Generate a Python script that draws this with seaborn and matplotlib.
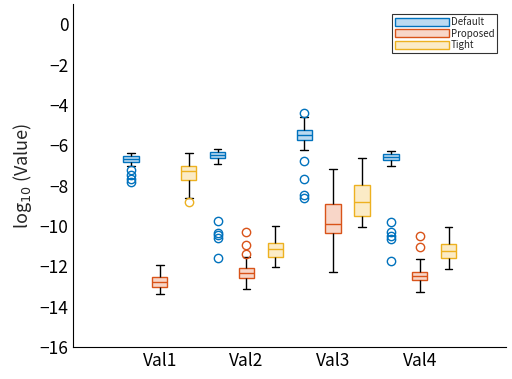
import pandas as pd
import matplotlib
matplotlib.use('Agg')
import matplotlib.pyplot as plt
import seaborn as sns
from matplotlib.patches import Patch

categories = ['Val1', 'Val2', 'Val3', 'Val4']
methods = ['Default', 'Proposed', 'Tight']

# box summaries (log10 of value):
# [whisker low, q1, median, q3, whisker high] for Val1..Val4
default_stats = [
    [-7.02, -6.80, -6.67, -6.54, -6.36],
    [-6.93, -6.64, -6.46, -6.32, -6.16],
    [-6.21, -5.75, -5.46, -5.23, -4.59],
    [-7.03, -6.74, -6.59, -6.44, -6.27],
]
proposed_stats = [
    [-13.37, -13.00, -12.75, -12.50, -11.95],
    [-13.14, -12.55, -12.32, -12.10, -11.52],
    [-12.25, -10.32, -9.92, -8.90, -7.17],
    [-13.29, -12.68, -12.46, -12.25, -11.65],
]
tight_stats = [
    [-8.60, -7.70, -7.26, -7.02, -6.36],
    [-12.04, -11.51, -11.14, -10.86, -9.97],
    [-10.05, -9.48, -8.82, -7.96, -6.62],
    [-12.15, -11.57, -11.23, -10.91, -10.04],
]

default_outliers = [
    [-7.22, -7.46, -7.66, -7.79],
    [-9.74, -10.32, -10.45, -10.57, -11.60],
    [-4.40, -6.79, -7.68, -8.47, -8.59],
    [-9.82, -10.30, -10.50, -10.65, -11.72],
]
proposed_outliers = [
    [],
    [-10.30, -10.95, -11.37],
    [],
    [-10.48, -11.06],
]
tight_outliers = [
    [-8.82],
    [],
    [],
    [],
]

edge_colors = {'Default': '#0072BD', 'Proposed': '#D95319', 'Tight': '#EDB120'}
face_colors = {'Default': '#BCDAF0', 'Proposed': '#F8D6C8', 'Tight': '#FBEBC6'}

# seaborn needs raw samples, so rebuild a sample per box that reproduces the summary
rows = []
all_stats = {'Default': (default_stats, default_outliers),
             'Proposed': (proposed_stats, proposed_outliers),
             'Tight': (tight_stats, tight_outliers)}
for m in methods:
    stats, outs = all_stats[m]
    for cat, s, o in zip(categories, stats, outs):
        lo, q1, med, q3, hi = s
        sample = [lo] + [q1] * 9 + [med] * 9 + [q3] * 9 + [hi] + list(o)
        rows += [{'Val': cat, 'Method': m, 'value': v} for v in sample]
df = pd.DataFrame(rows)

sns.set_style('white')
plt.rcParams['font.family'] = ['Noto Sans CJK JP', 'DejaVu Sans']
plt.rcParams['axes.unicode_minus'] = True

fig = plt.figure(figsize=(5.12, 3.79), dpi=100)
ax = fig.add_axes([0.143, 0.084, 0.846, 0.905])

for m in methods:
    sns.boxplot(
        data=df[df['Method'] == m], x='Val', y='value', hue='Method',
        order=categories, hue_order=methods, dodge=True,
        palette=face_colors, saturation=1, width=1.0, gap=0.47,
        linecolor=edge_colors[m], linewidth=1.0,
        whiskerprops=dict(color='black'),
        capprops=dict(color='black'),
        medianprops=dict(color=edge_colors[m]),
        flierprops=dict(marker='o', markerfacecolor='none',
                        markeredgecolor=edge_colors[m], markersize=6,
                        markeredgewidth=1.0),
        legend=False, ax=ax,
    )

ax.set_xlim(-1, 4)
ax.set_ylim(-16, 1)
ax.set_yticks(range(-16, 1, 2))
ax.set_xlabel('')
ax.set_ylabel('log$_{10}$ (Value)', fontsize=13)
ax.tick_params(axis='both', direction='in', length=4, width=0.8, labelsize=12.5,
               colors='black')
for side in ['top', 'right']:
    ax.spines[side].set_visible(False)
for side in ['left', 'bottom']:
    ax.spines[side].set_color('black')
    ax.spines[side].set_linewidth(0.8)

handles = [Patch(facecolor=face_colors[m], edgecolor=edge_colors[m], label=m)
           for m in methods]
leg = ax.legend(handles=handles, loc='upper right', fontsize=7, frameon=True,
                fancybox=False, edgecolor='black', handlelength=5.5,
                handleheight=0.9, handletextpad=0.2, borderpad=0.3,
                labelspacing=0.15, bbox_to_anchor=(0.99, 0.985))
leg.get_frame().set_linewidth(0.8)

fig.savefig('out.png', dpi=100)
